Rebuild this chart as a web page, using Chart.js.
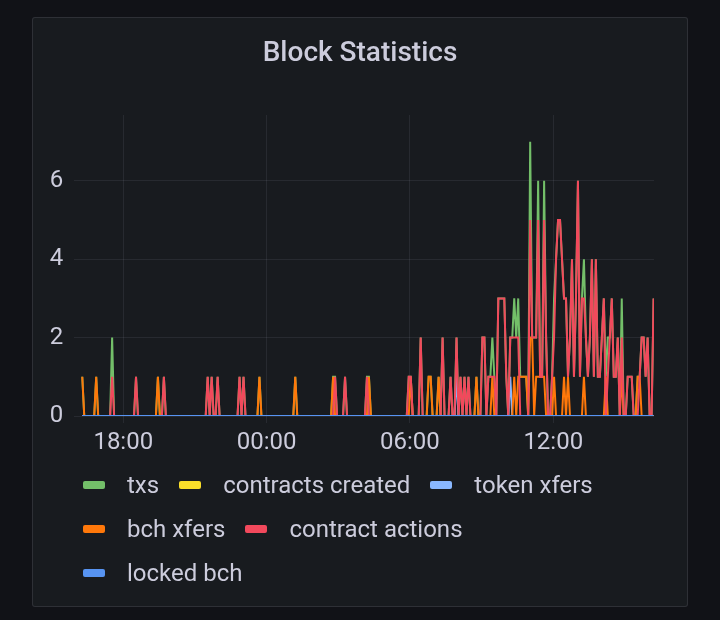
<!DOCTYPE html>
<html>
<head>
<meta charset="utf-8">
<title>Block Statistics</title>
<script src="https://cdn.jsdelivr.net/npm/chart.js@4.4.1/dist/chart.umd.min.js"></script>
<style>
  html, body { margin: 0; padding: 0; background: #111217; }
  body { width: 720px; height: 620px; position: relative; overflow: hidden; font-family: Roboto, "Noto Sans", sans-serif; }
  .panel {
    position: absolute; left: 32px; top: 17px; width: 656px; height: 590px;
    box-sizing: border-box; background: #181b1f;
    border: 1px solid rgba(204, 204, 220, 0.12); border-radius: 3px;
  }
  .panel-title {
    position: absolute; left: 0; right: 0; top: 20px; height: 28px; line-height: 28px;
    text-align: center; color: #ccccdc; font-size: 28px; font-weight: 500; white-space: nowrap;
  }
  .chart-box { position: absolute; left: -1px; top: -1px; width: 656px; height: 450px; }
  .legend { position: absolute; left: 50px; top: 445px; color: #ccccdc; font-size: 24px; }
  .legend-row { height: 44px; display: flex; align-items: center; white-space: nowrap; }
  .legend-item { display: flex; align-items: center; margin-right: 20px; }
  .legend-swatch { width: 22px; height: 8px; border-radius: 2px; margin-right: 22px; }
</style>
</head>
<body>
<div class="panel">
  <div class="chart-box"><canvas id="blockChart"></canvas></div>
  <div class="panel-title">Block Statistics</div>
  <div class="legend" id="legend"></div>
</div>
<script>
// samples every 5 minutes, first one at 16:17 of the previous day (minutes from midnight)
const firstSampleMin = -463;
const sampleStepMin = 5;

// one row = one hour of samples
const txs = [
  1,0,0,0,0,0,0,1,0,0,0,0,
  0,0,0,2,0,0,0,0,0,0,0,0,
  0,0,0,1,0,0,0,0,0,0,0,0,
  0,0,1,0,0,1,0,0,0,0,0,0,
  0,0,0,0,0,0,0,0,0,0,0,0,
  0,0,0,1,0,1,0,0,1,0,0,0,
  0,0,0,0,0,0,0,1,0,1,0,0,
  0,0,0,0,0,1,0,0,0,0,0,0,
  0,0,0,0,0,0,0,0,0,0,0,1,
  0,0,0,0,0,0,0,0,0,0,0,0,
  0,0,0,0,0,0,1,1,0,0,0,0,
  1,0,0,0,0,0,0,0,0,0,0,1,
  1,0,0,0,0,0,0,0,0,0,0,0,
  0,0,0,0,0,0,0,0,1,1,0,0,
  0,0,2,0,0,0,1,1,0,0,0,1,
  0,2,0,0,0,1,0,0,2,0,1,0,
  1,0,1,0,0,0,1,0,0,2,2,0,
  1,1,2,1,0,3,3,3,3,1,0,2,
  2,3,2,3,1,1,1,1,0,7,2,2,
  2,6,1,1,6,2,0,0,1,3,4,5,
  5,4,3,3,1,2,4,1,3,6,1,3,
  4,2,1,2,4,1,4,1,1,2,3,1,
  2,2,3,1,1,2,0,3,0,0,1,1,
  1,0,0,1,1,2,2,1,2,0,0,3
];

const contractsCreated = [
  0,0,0,0,0,0,0,0,0,0,0,0,
  0,0,0,0,0,0,0,0,0,0,0,0,
  0,0,0,0,0,0,0,0,0,0,0,0,
  0,0,0,0,0,0,0,0,0,0,0,0,
  0,0,0,0,0,0,0,0,0,0,0,0,
  0,0,0,0,0,0,0,0,0,0,0,0,
  0,0,0,0,0,0,0,0,0,0,0,0,
  0,0,0,0,0,0,0,0,0,0,0,0,
  0,0,0,0,0,0,0,0,0,0,0,0,
  0,0,0,0,0,0,0,0,0,0,0,0,
  0,0,0,0,0,0,0,0,0,0,0,0,
  0,0,0,0,0,0,0,0,0,0,0,0,
  0,0,0,0,0,0,0,0,0,0,0,0,
  0,0,0,0,0,0,0,0,0,0,0,0,
  0,0,0,0,0,0,0,0,0,0,0,0,
  0,0,0,0,0,0,0,0,0,0,0,0,
  0,0,0,0,0,0,0,0,0,0,0,0,
  0,0,0,0,0,0,0,0,0,0,0,0,
  0,0,0,0,0,0,0,0,0,0,0,0,
  0,0,0,0,0,0,0,0,0,0,0,0,
  0,0,0,0,0,0,0,0,0,0,0,0,
  0,0,0,0,0,0,0,0,0,0,0,0,
  0,0,0,0,0,0,0,0,0,0,0,0,
  0,0,0,0,0,0,0,0,0,0,0,0
];

const tokenXfers = [
  0,0,0,0,0,0,0,0,0,0,0,0,
  0,0,0,0,0,0,0,0,0,0,0,0,
  0,0,0,0,0,0,0,0,0,0,0,0,
  0,0,0,0,0,0,0,0,0,0,0,0,
  0,0,0,0,0,0,0,0,0,0,0,0,
  0,0,0,0,0,0,0,0,0,0,0,0,
  0,0,0,0,0,0,0,0,0,0,0,0,
  0,0,0,0,0,0,0,0,0,0,0,0,
  0,0,0,0,0,0,0,0,0,0,0,0,
  0,0,0,0,0,0,0,0,0,0,0,0,
  0,0,0,0,0,0,0,0,0,0,0,0,
  0,0,0,0,0,0,0,0,0,0,0,0,
  0,0,0,0,0,0,0,0,0,0,0,0,
  0,0,0,0,0,0,0,0,0,0,0,0,
  0,0,0,0,0,0,0,0,0,0,0,0,
  0,0,0,0,0,0,0,0,1,0,0,0,
  0,0,0,0,0,0,0,0,0,0,0,0,
  0,0,0,0,0,0,0,0,0,0,0,1,
  0,0,0,0,0,0,0,0,0,0,0,0,
  0,0,0,0,0,0,0,0,0,0,0,0,
  0,0,0,0,0,0,0,0,0,0,0,0,
  0,0,0,0,0,0,0,0,0,0,0,0,
  0,0,0,0,0,0,0,0,0,0,0,0,
  0,0,0,0,0,0,0,0,0,0,0,0
];

const bchXfers = [
  1,0,0,0,0,0,0,1,0,0,0,0,
  0,0,0,0,0,0,0,0,0,0,0,0,
  0,0,0,0,0,0,0,0,0,0,0,0,
  0,0,1,0,0,0,0,0,0,0,0,0,
  0,0,0,0,0,0,0,0,0,0,0,0,
  0,0,0,0,0,0,0,0,0,0,0,0,
  0,0,0,0,0,0,0,0,0,0,0,0,
  0,0,0,0,0,1,0,0,0,0,0,0,
  0,0,0,0,0,0,0,0,0,0,0,1,
  0,0,0,0,0,0,0,0,0,0,0,0,
  0,0,0,0,0,0,1,0,0,0,0,0,
  0,0,0,0,0,0,0,0,0,0,0,0,
  1,0,0,0,0,0,0,0,0,0,0,0,
  0,0,0,0,0,0,0,0,0,1,0,0,
  0,0,0,0,0,0,1,1,0,0,0,1,
  0,0,0,0,0,0,0,0,0,0,0,0,
  0,0,0,0,0,0,1,0,0,0,0,0,
  0,0,1,0,0,0,0,0,0,0,0,0,
  0,1,0,1,1,1,1,1,0,2,2,0,
  1,1,1,1,1,0,0,0,0,1,0,0,
  0,0,1,0,1,0,0,0,0,0,0,0,
  1,0,0,0,0,0,0,0,0,0,0,1,
  0,0,0,0,0,0,0,1,0,0,0,0,
  0,0,0,1,1,0,0,0,0,0,0,0
];

const contractActions = [
  0,0,0,0,0,0,0,0,0,0,0,0,
  0,0,0,1,0,0,0,0,0,0,0,0,
  0,0,0,1,0,0,0,0,0,0,0,0,
  0,0,0,0,0,1,0,0,0,0,0,0,
  0,0,0,0,0,0,0,0,0,0,0,0,
  0,0,0,1,0,1,0,0,1,0,0,0,
  0,0,0,0,0,0,0,1,0,1,0,0,
  0,0,0,0,0,0,0,0,0,0,0,0,
  0,0,0,0,0,0,0,0,0,0,0,0,
  0,0,0,0,0,0,0,0,0,0,0,0,
  0,0,0,0,0,0,0,1,0,0,0,0,
  1,0,0,0,0,0,0,0,0,0,0,1,
  0,0,0,0,0,0,0,0,0,0,0,0,
  0,0,0,0,0,0,0,0,1,1,0,0,
  0,0,2,0,0,0,0,0,0,0,0,0,
  0,2,0,0,0,1,0,0,2,0,1,0,
  1,0,1,0,0,0,0,0,0,2,2,0,
  1,1,1,1,0,3,3,3,3,1,0,2,
  2,2,2,2,0,0,0,0,0,5,2,2,
  2,5,1,1,5,2,0,0,1,2,4,5,
  5,4,3,3,1,2,4,1,3,6,1,3,
  3,2,1,2,4,1,4,1,1,2,3,0,
  1,2,3,1,1,2,0,2,0,0,1,1,
  1,0,0,0,1,2,2,1,2,0,0,3
];

const lockedBch = [
  0,0,0,0,0,0,0,0,0,0,0,0,
  0,0,0,0,0,0,0,0,0,0,0,0,
  0,0,0,0,0,0,0,0,0,0,0,0,
  0,0,0,0,0,0,0,0,0,0,0,0,
  0,0,0,0,0,0,0,0,0,0,0,0,
  0,0,0,0,0,0,0,0,0,0,0,0,
  0,0,0,0,0,0,0,0,0,0,0,0,
  0,0,0,0,0,0,0,0,0,0,0,0,
  0,0,0,0,0,0,0,0,0,0,0,0,
  0,0,0,0,0,0,0,0,0,0,0,0,
  0,0,0,0,0,0,0,0,0,0,0,0,
  0,0,0,0,0,0,0,0,0,0,0,0,
  0,0,0,0,0,0,0,0,0,0,0,0,
  0,0,0,0,0,0,0,0,0,0,0,0,
  0,0,0,0,0,0,0,0,0,0,0,0,
  0,0,0,0,0,0,0,0,0,0,0,0,
  0,0,0,0,0,0,0,0,0,0,0,0,
  0,0,0,0,0,0,0,0,0,0,0,0,
  0,0,0,0,0,0,0,0,0,0,0,0,
  0,0,0,0,0,0,0,0,0,0,0,0,
  0,0,0,0,0,0,0,0,0,0,0,0,
  0,0,0,0,0,0,0,0,0,0,0,0,
  0,0,0,0,0,0,0,0,0,0,0,0,
  0,0,0,0,0,0,0,0,0,0,0,0
];

const seriesNames = ['txs', 'contracts created', 'token xfers', 'bch xfers', 'contract actions', 'locked bch'];
const seriesColors = ['#73bf69', '#fade2a', '#8ab8ff', '#ff780a', '#f2495c', '#5794f2'];
const seriesValues = [txs, contractsCreated, tokenXfers, bchXfers, contractActions, lockedBch];

const xTickValues = [-360, 0, 360, 720];
const xTickLabels = ['18:00', '00:00', '06:00', '12:00'];
const yTickValues = [0, 2, 4, 6];

const times = txs.map((_, i) => firstSampleMin + i * sampleStepMin);

const textColor = '#ccccdc';
const gridColor = 'rgba(204, 204, 220, 0.09)';
const tickFont = {family: 'Roboto', size: 24};

document.addEventListener('DOMContentLoaded', () => {
    const ctx = document.getElementById('blockChart').getContext('2d');

    const chart = new Chart(ctx, {
        type: 'line',
        data: {
            datasets: seriesValues.map((values, k) => ({
                label: seriesNames[k],
                data: values.map((v, i) => ({x: times[i], y: v})),
                borderColor: seriesColors[k],
                backgroundColor: seriesColors[k],
                borderWidth: 2,
                pointRadius: 0,
                tension: 0,
                fill: false,
                // first series at the bottom, last on top
                order: seriesValues.length - k
            }))
        },
        options: {
            animation: false,
            responsive: true,
            maintainAspectRatio: false,
            layout: {
                padding: {left: 0, right: 34, top: 98, bottom: 0}
            },
            plugins: {
                legend: {display: false},
                tooltip: {enabled: false}
            },
            scales: {
                x: {
                    type: 'linear',
                    min: -483,
                    max: 973,
                    afterBuildTicks: (scale) => {
                        scale.ticks = xTickValues.map(v => ({value: v}));
                    },
                    afterFit: (scale) => {
                        scale.height = 51;
                    },
                    ticks: {
                        color: textColor,
                        font: tickFont,
                        padding: 6,
                        maxRotation: 0,
                        autoSkip: false,
                        callback: (value, index) => xTickLabels[index]
                    },
                    grid: {
                        color: gridColor,
                        lineWidth: 1,
                        drawTicks: true,
                        tickLength: 7
                    },
                    border: {display: false}
                },
                y: {
                    min: 0,
                    max: 7.68,
                    afterBuildTicks: (scale) => {
                        scale.ticks = yTickValues.map(v => ({value: v}));
                    },
                    afterFit: (scale) => {
                        scale.width = 42.3;
                    },
                    ticks: {
                        color: textColor,
                        font: tickFont,
                        padding: 11
                    },
                    grid: {
                        color: gridColor,
                        lineWidth: 1,
                        drawTicks: false
                    },
                    border: {display: false}
                }
            }
        }
    });

    // legend laid out in the same three rows as the panel
    const legendRows = [[0, 1, 2], [3, 4], [5]];
    const legendEl = document.getElementById('legend');
    legendRows.forEach(row => {
        const rowEl = document.createElement('div');
        rowEl.className = 'legend-row';
        row.forEach(k => {
            const ds = chart.data.datasets[k];
            const item = document.createElement('div');
            item.className = 'legend-item';
            const swatch = document.createElement('span');
            swatch.className = 'legend-swatch';
            swatch.style.background = ds.borderColor;
            const label = document.createElement('span');
            label.textContent = ds.label;
            item.appendChild(swatch);
            item.appendChild(label);
            rowEl.appendChild(item);
        });
        legendEl.appendChild(rowEl);
    });
});
</script>
</body>
</html>
